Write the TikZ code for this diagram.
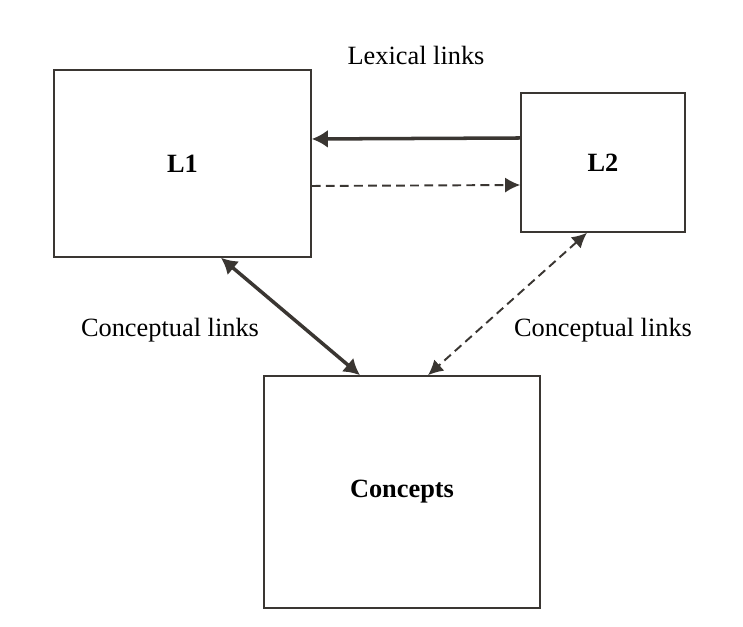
\documentclass[tikz,border=0pt]{standalone}
\usepackage{fontspec}
\setmainfont{Liberation Serif}
\usepackage{tikz}
\usetikzlibrary{arrows.meta,positioning,calc}
\definecolor{inkgray}{RGB}{58,54,50}
\tikzset{
block/.style = {draw=inkgray, line width=0.9pt, fill=white, rectangle, inner sep=0pt, align = center, font=\fontsize{15}{18}\selectfont\bfseries},
lbl/.style = {font=\fontsize{15}{18}\selectfont, inner sep=0pt},
strong/.style = {draw=inkgray, line width=2pt, -{Latex[length=0.32cm,width=0.36cm]}},
weak/.style = {draw=inkgray, line width=1.1pt, dash pattern=on 5pt off 3pt, -{Latex[length=0.3cm,width=0.3cm]}},
}
\begin{document}
\begin{tikzpicture}
        \useasboundingbox (0,0) rectangle (14.86,12.54);
        % language boxes
        \node [block, minimum width=5.14cm, minimum height=3.74cm] (L1) at (3.65,9.27) {L1};
        \node [block, minimum width=3.28cm, minimum height=2.78cm] (L2) at (12.06,9.29) {L2};
        % concept store
        \node [block, minimum width=5.52cm, minimum height=4.64cm] (concepts) at (8.04,2.70) {Concepts};

        \node [lbl] (lex) at (8.32,11.44) {Lexical links};
        \node [lbl] (concl) at (3.40,5.94) {Conceptual links};
        \node [lbl] (concr) at (12.06,5.94) {Conceptual links};

        % lexical links
        \draw [strong] ([yshift=0.49cm]L2.west) -- ([yshift=0.49cm]L1.east);
        \draw [weak] ([yshift=-0.45cm]L1.east) -- ([yshift=-0.45cm]L2.west);
        % conceptual links
        \draw [strong, {Latex[length=0.32cm,width=0.36cm]}-{Latex[length=0.32cm,width=0.36cm]}] ([xshift=0.77cm]L1.south) -- ([xshift=-0.84cm]concepts.north);
        \draw [weak, {Latex[length=0.3cm,width=0.3cm]}-{Latex[length=0.3cm,width=0.3cm]}] ([xshift=-0.32cm]L2.south) -- ([xshift=0.52cm]concepts.north);
\end{tikzpicture}
\end{document}
